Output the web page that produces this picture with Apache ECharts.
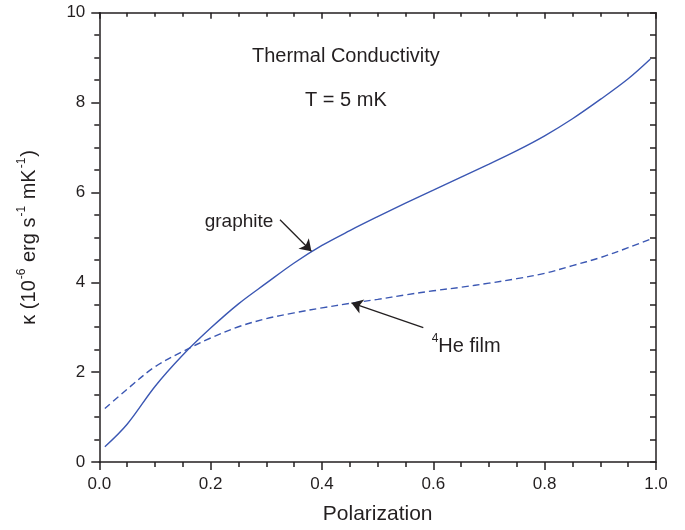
<!DOCTYPE html>
<html>
<head>
<meta charset="utf-8">
<script src="https://cdn.jsdelivr.net/npm/echarts@6/dist/echarts.min.js"></script>
<style>
html,body{margin:0;padding:0;background:#fff;}
#c{width:685px;height:530px;}
</style>
</head>
<body>
<div id="c"></div>
<script>
// Polarization sample positions
const polX = [0.01, 0.05, 0.10, 0.15, 0.20, 0.25, 0.30, 0.35, 0.40, 0.45, 0.50, 0.55, 0.60, 0.65, 0.70, 0.75, 0.80, 0.85, 0.90, 0.95, 0.99];
// Graphite (solid) curve
const graphiteY = [0.34, 0.84, 1.68, 2.38, 2.98, 3.52, 3.98, 4.43, 4.82, 5.15, 5.46, 5.76, 6.05, 6.34, 6.63, 6.93, 7.26, 7.64, 8.07, 8.53, 8.97];
// 4He film (dashed) curve
const heY = [1.19, 1.62, 2.12, 2.46, 2.76, 3.01, 3.19, 3.32, 3.43, 3.53, 3.62, 3.72, 3.81, 3.89, 3.98, 4.08, 4.20, 4.37, 4.55, 4.77, 4.96];
// tick labels
const xTicks = ['0.0', '0.2', '0.4', '0.6', '0.8', '1.0'];
const yTicks = ['0', '2', '4', '6', '8', '10'];
// annotation texts and anchors (data coordinates)
const titleText = 'Thermal Conductivity';
const tempText = 'T = 5 mK';
const titlePos = [0.443, 9.02];
const tempPos = [0.443, 8.05];
const graphiteLabelPos = [0.251, 5.35];
const heLabelPos = [0.597, 2.615];
const graphiteArrow = [[0.3246, 5.39], [0.381, 4.69]];
const heArrow = [[0.582, 2.99], [0.453, 3.54]];

const zip = (xs, ys) => xs.map((x, i) => [x, ys[i]]);
const blue = '#3b57b3';
const axisColor = '#231f20';
const font = 'Liberation Sans, Arial, Helvetica, sans-serif';

const chart = echarts.init(document.getElementById('c'), null, {renderer: 'canvas'});

const baseX = {
  type: 'value', min: 0, max: 1, interval: 0.2,
  axisLine: {show: true, onZero: false, lineStyle: {color: axisColor, width: 1.5}},
  splitLine: {show: false}
};
const baseY = {
  type: 'value', min: 0, max: 10, interval: 2,
  axisLine: {show: true, onZero: false, lineStyle: {color: axisColor, width: 1.5}},
  splitLine: {show: false}
};

const option = {
  animation: false,
  backgroundColor: '#fff',
  grid: {left: 99.3, right: 29, top: 12.7, bottom: 67.3, containLabel: false},
  xAxis: [
    Object.assign({}, baseX, {
      position: 'bottom',
      axisTick: {show: true, inside: false, length: 8, lineStyle: {color: axisColor, width: 1.5}},
      minorTick: {show: true, splitNumber: 4, length: 5, lineStyle: {color: axisColor, width: 1.5}},
      axisLabel: {show: true, margin: 14, fontSize: 17, color: '#231f20', fontFamily: font,
        formatter: (v) => xTicks[Math.round(v / 0.2)]},
      name: 'Polarization', nameLocation: 'middle', nameGap: 42,
      nameTextStyle: {fontSize: 21, color: '#231f20', fontFamily: font}
    }),
    Object.assign({}, baseX, {
      position: 'top',
      axisTick: {show: true, inside: true, length: 6, lineStyle: {color: axisColor, width: 1.5}},
      minorTick: {show: true, splitNumber: 4, length: 4, lineStyle: {color: axisColor, width: 1.5}},
      axisLabel: {show: false}
    })
  ],
  yAxis: [
    Object.assign({}, baseY, {
      position: 'left',
      axisTick: {show: true, inside: false, length: 8, lineStyle: {color: axisColor, width: 1.5}},
      minorTick: {show: true, splitNumber: 4, length: 5, lineStyle: {color: axisColor, width: 1.5}},
      axisLabel: {show: true, margin: 14, fontSize: 17, color: '#231f20', fontFamily: font,
        formatter: (v) => yTicks[Math.round(v / 2)]},
      name: '{t|\u03ba (10}{s|-6}{t| erg s}{s|-1}{t| mK}{s|-1}{t|)}',
      nameLocation: 'middle', nameGap: 60, nameRotate: 90,
      nameTextStyle: {
        fontFamily: font, color: '#231f20',
        rich: {
          t: {fontSize: 20, fontFamily: font, color: '#231f20', lineHeight: 24, verticalAlign: 'bottom'},
          s: {fontSize: 12, fontFamily: font, color: '#231f20', lineHeight: 24, verticalAlign: 'top', padding: [0, 1, 0, 1]}
        }
      }
    }),
    Object.assign({}, baseY, {
      position: 'right',
      axisTick: {show: true, inside: true, length: 6, lineStyle: {color: axisColor, width: 1.5}},
      minorTick: {show: true, splitNumber: 4, length: 6, lineStyle: {color: axisColor, width: 1.5}},
      axisLabel: {show: false}
    })
  ],
  series: [
    {
      name: 'graphite', type: 'line', xAxisIndex: 0, yAxisIndex: 0,
      data: zip(polX, graphiteY),
      smooth: 0.35, showSymbol: false, symbol: 'none',
      lineStyle: {color: blue, width: 1.4},
      markLine: {
        silent: true, symbol: ['none', 'arrow'], symbolSize: 11,
        label: {show: false},
        lineStyle: {color: '#231f20', width: 1.3, type: 'solid'},
        data: [
          [{coord: graphiteArrow[0]}, {coord: graphiteArrow[1]}],
          [{coord: heArrow[0]}, {coord: heArrow[1]}]
        ]
      },
      markPoint: {
        silent: true, symbol: 'circle', symbolSize: 0,
        itemStyle: {color: 'transparent'},
        label: {show: true, position: 'inside', fontFamily: font, color: '#231f20', fontSize: 20},
        data: [
          {coord: titlePos, label: {formatter: titleText, fontSize: 20}},
          {coord: tempPos, label: {formatter: tempText, fontSize: 20}},
          {coord: graphiteLabelPos, label: {formatter: 'graphite', fontSize: 19}},
          {coord: heLabelPos, label: {
            position: 'right', distance: 0,
            formatter: '{s|4}{t|He film}',
            rich: {
              t: {fontSize: 20, fontFamily: font, color: '#231f20', lineHeight: 24, verticalAlign: 'bottom'},
              s: {fontSize: 12, fontFamily: font, color: '#231f20', lineHeight: 24, verticalAlign: 'top'}
            }
          }}
        ]
      }
    },
    {
      name: '4He film', type: 'line', xAxisIndex: 0, yAxisIndex: 0,
      data: zip(polX, heY),
      smooth: 0.35, showSymbol: false, symbol: 'none',
      lineStyle: {color: blue, width: 1.4, type: [7, 4]}
    }
  ]
};
chart.setOption(option);
</script>
</body>
</html>
